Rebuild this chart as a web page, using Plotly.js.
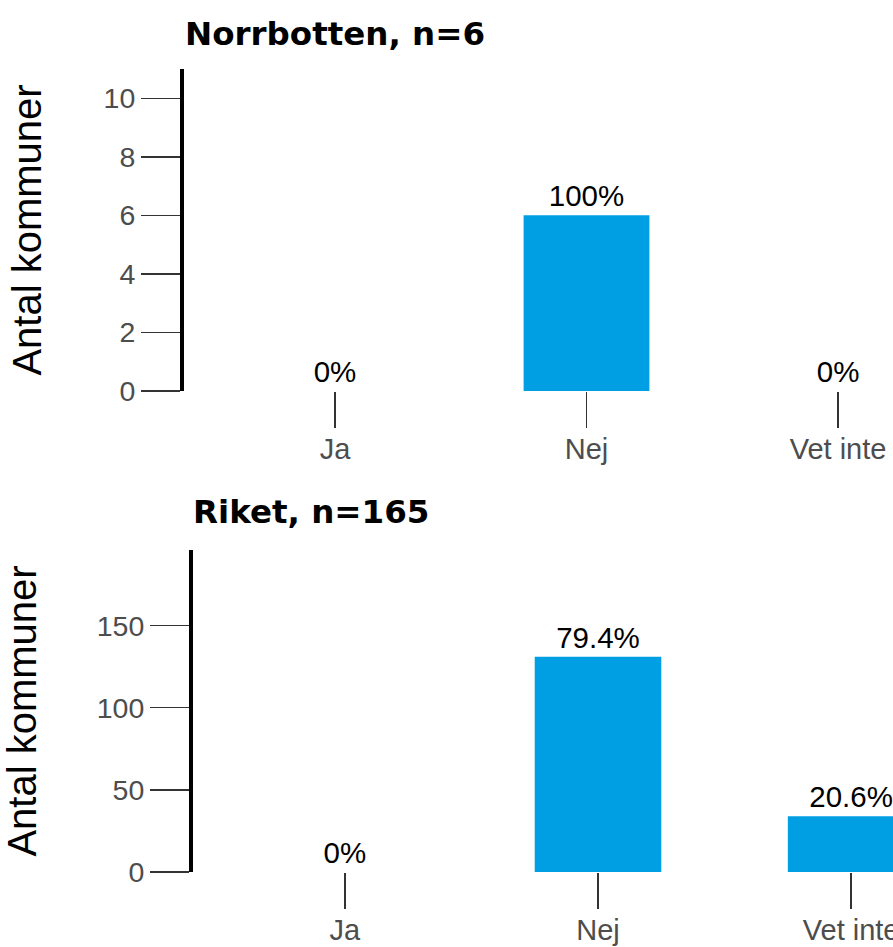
<!DOCTYPE html>
<html>
<head>
<meta charset="utf-8">
<script src="https://cdn.plot.ly/plotly-3.0.1.min.js"></script>
<style>
html,body{margin:0;padding:0;overflow:hidden;background:#fff;}
#chart{width:1010px;height:947px;}
</style>
</head>
<body>
<div id="chart"></div>
<script>
const categories = ["Ja", "Nej", "Vet inte"];
const norrbottenCounts = [0, 6, 0];
const norrbottenLabels = ["0%", "100%", "0%"];
const riketCounts = [0, 131, 34];
const riketLabels = ["0%", "79.4%", "20.6%"];
const titleTop = "Norrbotten, n=6";
const titleBottom = "Riket, n=165";
const yTitle = "Antal kommuner";

const W = 1010, H = 947;
const barColor = "#009FE3";
const font = "Liberation Sans, Arial, sans-serif";
const titleFont = "DejaVu Sans, sans-serif";

function bar(x, y, text, xa, ya) {
  return {
    type: "bar", x: x, y: y, text: text, xaxis: xa, yaxis: ya,
    textposition: "outside", cliponaxis: false, constraintext: "none",
    textfont: {family: font, size: 29.5, color: "#000"},
    marker: {color: barColor}, width: 0.5, hoverinfo: "none"
  };
}

const data = [
  bar(categories, norrbottenCounts, norrbottenLabels, "x", "y"),
  bar(categories, riketCounts, riketLabels, "x2", "y2")
];

function xax(d0, d1, anchor) {
  return {
    domain: [d0 / W, d1 / W], anchor: anchor, type: "category",
    range: [-0.6, 2.6], showline: false, showgrid: false, zeroline: false,
    ticks: "outside", ticklen: 36, tickwidth: 1.5, tickcolor: "#333",
    ticklabelstandoff: -4,
    tickfont: {family: font, size: 29, color: "#4d4d4d"}, fixedrange: true
  };
}
function yax(p0, p1, anchor, range, dtick, standoff) {
  return {
    domain: [1 - p1 / H, 1 - p0 / H], anchor: anchor,
    range: range, dtick: dtick, tick0: 0,
    showline: true, linewidth: 4, linecolor: "#000",
    showgrid: false, zeroline: false,
    ticks: "outside", ticklen: 39, tickwidth: 1.5, tickcolor: "#333",
    tickfont: {family: font, size: 28.5, color: "#4d4d4d"},
    title: {text: yTitle, font: {family: font, size: 40, color: "#000"}, standoff: standoff},
    fixedrange: true
  };
}

const layout = {
  width: W, height: H,
  margin: {l: 0, r: 0, t: 0, b: 0},
  paper_bgcolor: "#fff", plot_bgcolor: "#fff",
  showlegend: false,
  xaxis: xax(184, 989, "y"),
  yaxis: yax(69, 391, "x", [0, 11], 2, 51),
  xaxis2: xax(193, 1003, "y2"),
  yaxis2: yax(550, 872, "x2", [0, 196], 50, 53),
  annotations: [
    {text: "<b>" + titleTop + "</b>", xref: "paper", yref: "paper",
     x: 183 / W, y: 1 - 34 / H, xanchor: "left", yanchor: "middle", showarrow: false,
     font: {family: titleFont, size: 32.5, color: "#000"}},
    {text: "<b>" + titleBottom + "</b>", xref: "paper", yref: "paper",
     x: 191 / W, y: 1 - 512 / H, xanchor: "left", yanchor: "middle", showarrow: false,
     font: {family: titleFont, size: 32.5, color: "#000"}}
  ]
};

Plotly.newPlot("chart", data, layout, {displayModeBar: false, staticPlot: true});
</script>
</body>
</html>
